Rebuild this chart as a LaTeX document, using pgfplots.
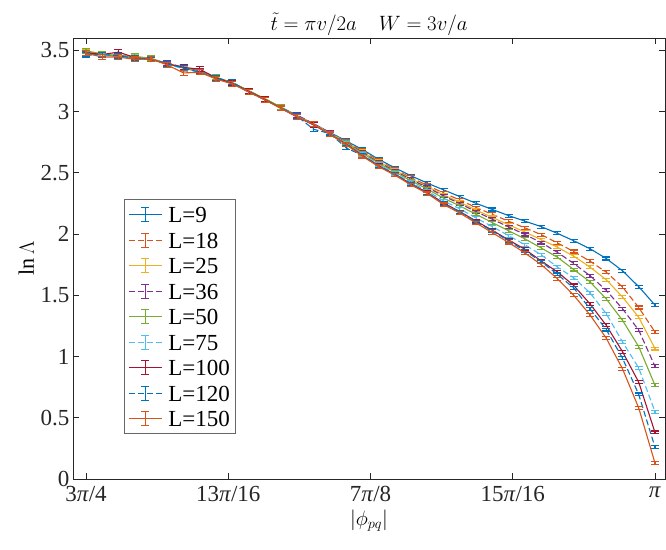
\documentclass[border=0pt]{standalone}
\usepackage{pgfplots}
\usepackage{pgfplotstable}
\usepackage{fontspec}
\setmainfont{Liberation Serif}
\pgfplotsset{compat=1.18}
\definecolor{c1}{rgb}{0,0.447,0.741}
\definecolor{c2}{rgb}{0.85,0.325,0.098}
\definecolor{c3}{rgb}{0.929,0.694,0.125}
\definecolor{c4}{rgb}{0.494,0.184,0.556}
\definecolor{c5}{rgb}{0.466,0.674,0.188}
\definecolor{c6}{rgb}{0.301,0.745,0.933}
\definecolor{c7}{rgb}{0.635,0.078,0.184}
\definecolor{axc}{rgb}{0.15,0.15,0.15}

\pgfplotstableread{
x        L9    L18   L25   L36   L50   L75   L100  L120  L150  err
0.750000 3.470 3.480 3.490 3.480 3.495 3.480 3.480 3.460 3.475 0.020
0.757143 3.465 3.460 3.470 3.465 3.470 3.460 3.465 3.465 3.445 0.020
0.764286 3.450 3.455 3.455 3.460 3.455 3.450 3.485 3.455 3.445 0.020
0.771429 3.440 3.440 3.445 3.440 3.450 3.440 3.440 3.435 3.425 0.020
0.778571 3.425 3.425 3.430 3.425 3.435 3.430 3.425 3.425 3.430 0.020
0.785714 3.390 3.395 3.390 3.395 3.390 3.385 3.390 3.390 3.380 0.020
0.792857 3.355 3.360 3.355 3.360 3.355 3.350 3.360 3.355 3.315 0.020
0.800000 3.325 3.320 3.325 3.330 3.325 3.320 3.345 3.320 3.320 0.020
0.807143 3.275 3.275 3.280 3.275 3.280 3.270 3.275 3.275 3.265 0.020
0.814286 3.235 3.230 3.235 3.230 3.235 3.225 3.230 3.240 3.225 0.020
0.821429 3.170 3.165 3.165 3.170 3.170 3.160 3.165 3.160 3.160 0.020
0.828571 3.100 3.100 3.105 3.100 3.105 3.095 3.100 3.095 3.095 0.020
0.835714 3.035 3.030 3.035 3.030 3.035 3.030 3.025 3.030 3.025 0.020
0.842857 2.965 2.960 2.965 2.970 2.960 2.960 2.955 2.960 2.955 0.020
0.850000 2.900 2.895 2.900 2.900 2.895 2.895 2.890 2.855 2.895 0.020
0.857143 2.830 2.825 2.825 2.825 2.820 2.820 2.815 2.820 2.815 0.018
0.864286 2.760 2.754 2.750 2.748 2.743 2.738 2.734 2.705 2.730 0.016
0.871429 2.690 2.679 2.672 2.667 2.660 2.650 2.642 2.640 2.635 0.015
0.878571 2.610 2.598 2.590 2.585 2.577 2.566 2.557 2.556 2.550 0.015
0.885714 2.540 2.528 2.520 2.515 2.507 2.496 2.487 2.486 2.480 0.014
0.892857 2.475 2.460 2.450 2.444 2.434 2.420 2.409 2.407 2.400 0.014
0.900000 2.415 2.397 2.386 2.380 2.367 2.352 2.338 2.336 2.330 0.013
0.907143 2.360 2.335 2.319 2.310 2.292 2.270 2.252 2.248 2.240 0.013
0.914286 2.305 2.277 2.259 2.248 2.229 2.205 2.183 2.180 2.170 0.012
0.921429 2.250 2.216 2.195 2.182 2.160 2.130 2.105 2.100 2.090 0.012
0.928571 2.200 2.160 2.135 2.120 2.093 2.060 2.030 2.024 2.010 0.012
0.935714 2.150 2.104 2.075 2.058 2.026 1.987 1.951 1.945 1.930 0.012
0.942857 2.105 2.050 2.016 1.996 1.960 1.912 1.875 1.862 1.845 0.012
0.950000 2.060 1.995 1.954 1.930 1.886 1.830 1.780 1.775 1.750 0.012
0.957143 2.005 1.927 1.892 1.850 1.810 1.730 1.690 1.670 1.635 0.012
0.964286 1.945 1.857 1.819 1.760 1.710 1.643 1.580 1.560 1.500 0.012
0.971429 1.880 1.778 1.730 1.660 1.610 1.520 1.430 1.390 1.340 0.012
0.978571 1.800 1.689 1.627 1.540 1.470 1.350 1.255 1.220 1.150 0.012
0.985714 1.700 1.568 1.486 1.390 1.296 1.120 1.040 0.987 0.900 0.012
0.992857 1.570 1.400 1.320 1.215 1.080 0.906 0.790 0.690 0.580 0.012
1.000000 1.420 1.200 1.065 0.920 0.765 0.550 0.380 0.260 0.130 0.012
}\datatable

\pgfplotsset{
  eb/.style={line width=1.1pt, mark=none,
    error bars/.cd, y dir=both, y explicit,
    error bar style={line width=1.1pt, solid},
    error mark options={rotate=90, mark size=4pt, line width=1.1pt, solid}},
  dsh/.style={dash pattern=on 6pt off 3pt},
}

\begin{document}
\begin{tikzpicture}
\begin{axis}[
  scale only axis, width=592pt, height=441pt,
  xmin=0.7443, xmax=1.0044, ymin=0, ymax=3.6,
  xtick={0.75,0.8125,0.875,0.9375,1},
  xticklabels={3\textit{π}/4, 13\textit{π}/16, 7\textit{π}/8, 15\textit{π}/16, \textit{π}},
  ytick={0,0.5,1,1.5,2,2.5,3,3.5},
  yticklabels={0,0.5,1,1.5,2,2.5,3,3.5},
  tick align=inside, major tick length=6pt,
  axis line style={color=axc, line width=0.6pt},
  tick style={color=axc, line width=0.6pt},
  tick label style={font=\fontsize{23}{27}\selectfont, text=axc},
  xticklabel style={yshift=-4pt},
  title={$\tilde{t}=\pi v/2a\quad W=3v/a$},
  title style={font=\fontsize{22}{26}\selectfont, yshift=-7pt},
  xlabel={$|\phi_{pq}|$}, ylabel={$\ln\Lambda$},
  label style={font=\fontsize{22}{26}\selectfont},
  xlabel style={yshift=-1pt},
  legend cell align=left,
  legend style={at={(0.086,0.102)}, anchor=south west, draw=axc!70,
    line width=0.6pt, font=\fontsize{23}{27}\selectfont, row sep=7.5pt,
    column sep=5pt, inner xsep=4pt, inner ysep=6pt,
    nodes={inner sep=1pt, text height=16pt, text depth=0pt}},
  legend image code/.code={
    \draw[#1] (0pt,0pt) -- (33pt,0pt);
    \draw[#1, solid] (16.5pt,-7pt) -- (16.5pt,7pt);
    \draw[#1, solid] (12.5pt,-7pt) -- (20.5pt,-7pt);
    \draw[#1, solid] (12.5pt,7pt) -- (20.5pt,7pt);
  },
]
\addplot[c1, eb] table[x=x, y=L9, y error=err] {\datatable};
\addlegendentry{L=9}
\addplot[c2, dsh, eb] table[x=x, y=L18, y error=err] {\datatable};
\addlegendentry{L=18}
\addplot[c3, eb] table[x=x, y=L25, y error=err] {\datatable};
\addlegendentry{L=25}
\addplot[c4, dsh, eb] table[x=x, y=L36, y error=err] {\datatable};
\addlegendentry{L=36}
\addplot[c5, eb] table[x=x, y=L50, y error=err] {\datatable};
\addlegendentry{L=50}
\addplot[c6, dsh, eb] table[x=x, y=L75, y error=err] {\datatable};
\addlegendentry{L=75}
\addplot[c7, eb] table[x=x, y=L100, y error=err] {\datatable};
\addlegendentry{L=100}
\addplot[c1, dsh, eb] table[x=x, y=L120, y error=err] {\datatable};
\addlegendentry{L=120}
\addplot[c2, eb] table[x=x, y=L150, y error=err] {\datatable};
\addlegendentry{L=150}
\end{axis}
\pgfresetboundingbox
\path ([shift={(-73pt,-70pt)}]current axis.south west) rectangle ([shift={(1pt,38pt)}]current axis.north east);
\end{tikzpicture}
\end{document}
